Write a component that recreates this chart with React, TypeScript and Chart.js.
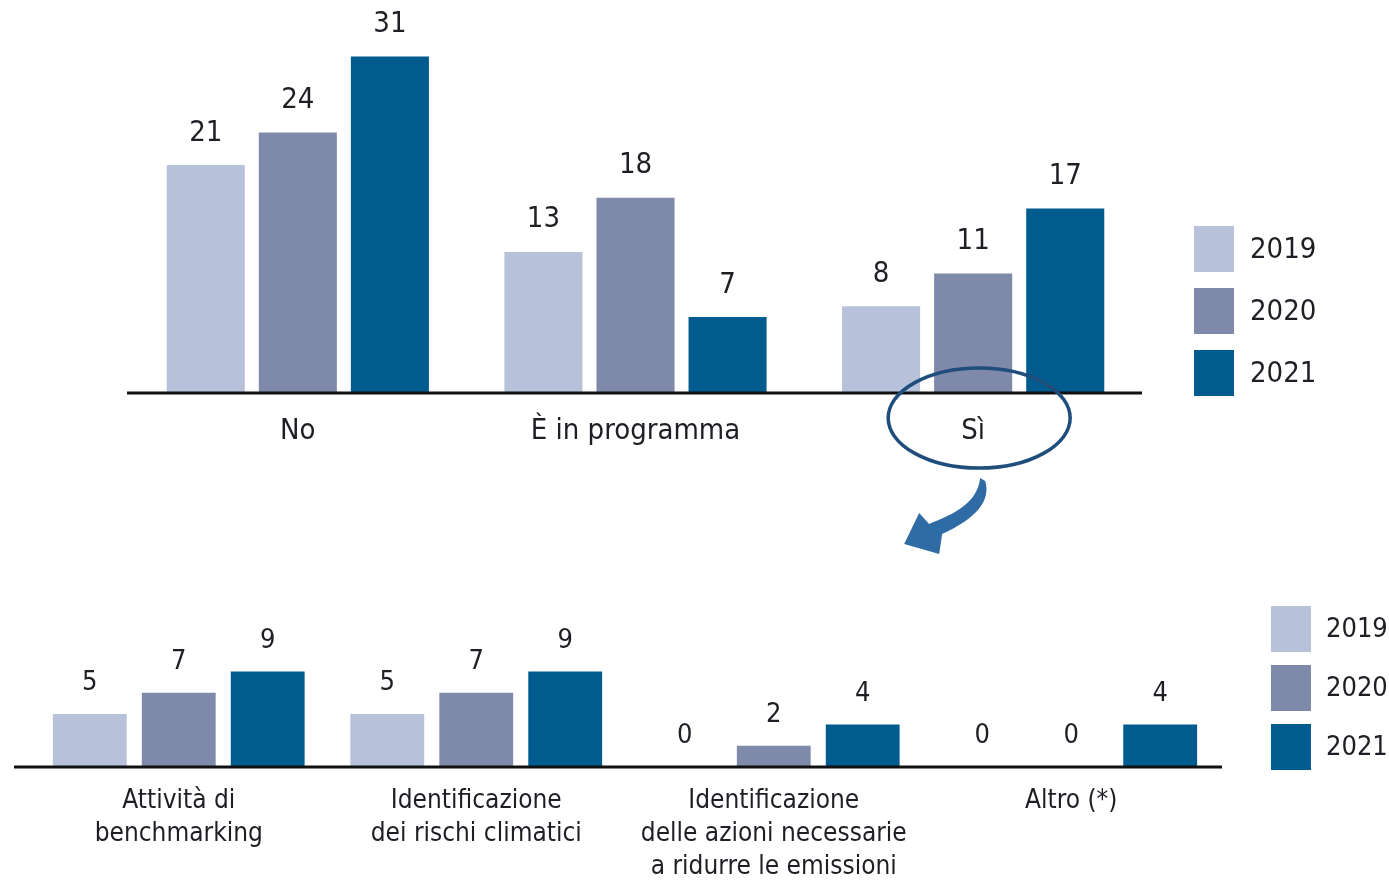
import React, { useEffect, useRef } from 'react';
import { Chart, registerables } from 'chart.js';
Chart.register(...registerables);

const years = ['2019', '2020', '2021'];
const colors = ['#b7c1d9', '#7f89a9', '#005b8e'];

const topCategories = ['No', 'È in programma', 'Sì'];
const top2019 = [21, 13, 8];
const top2020 = [24, 18, 11];
const top2021 = [31, 7, 17];

const bottomCategories = [
  ['Attività di', 'benchmarking'],
  ['Identificazione', 'dei rischi climatici'],
  ['Identificazione', 'delle azioni necessarie', 'a ridurre le emissioni'],
  ['Altro (*)'],
];
const bottom2019 = [5, 5, 0, 0];
const bottom2020 = [7, 7, 2, 0];
const bottom2021 = [9, 9, 4, 4];

const FONT = "'DejaVu Sans Condensed', 'Liberation Sans Narrow', sans-serif";
const TEXT = '#1e1e24';

function valueLabels(size: number, offset: number) {
  return {
    id: 'valueLabels',
    afterDatasetsDraw(chart: any) {
      const ctx = chart.ctx;
      ctx.save();
      ctx.font = `${size}px ${FONT}`;
      ctx.fillStyle = TEXT;
      ctx.textAlign = 'center';
      ctx.textBaseline = 'middle';
      chart.data.datasets.forEach((ds: any, i: number) => {
        const meta = chart.getDatasetMeta(i);
        meta.data.forEach((el: any, j: number) => {
          ctx.fillText(String(ds.data[j]), el.x, el.y - offset);
        });
      });
      ctx.restore();
    },
  };
}

function axisLine(x1: number, x2: number) {
  return {
    id: 'axisLine',
    afterDatasetsDraw(chart: any) {
      const ctx = chart.ctx;
      const y = chart.chartArea.bottom;
      ctx.save();
      ctx.strokeStyle = '#111';
      ctx.lineWidth = 3;
      ctx.beginPath();
      ctx.moveTo(x1, y);
      ctx.lineTo(x2, y);
      ctx.stroke();
      ctx.restore();
    },
  };
}

function customLegend(x: number, y0: number, step: number, w: number, h: number, textX: number, size: number) {
  return {
    id: 'customLegend',
    afterDraw(chart: any) {
      const ctx = chart.ctx;
      ctx.save();
      ctx.font = `${size}px ${FONT}`;
      ctx.textAlign = 'left';
      ctx.textBaseline = 'middle';
      chart.data.datasets.forEach((ds: any, i: number) => {
        const y = y0 + i * step;
        ctx.fillStyle = ds.backgroundColor;
        ctx.fillRect(x, y, w, h);
        ctx.fillStyle = TEXT;
        ctx.fillText(ds.label, textX, y + h / 2 + 1);
      });
      ctx.restore();
    },
  };
}

const highlight = {
  id: 'highlight',
  afterDraw(chart: any) {
    const ctx = chart.ctx;
    const xs = chart.scales.x;
    const cx = xs.getPixelForValue(2) + 6;
    const cy = chart.chartArea.bottom + 25;
    ctx.save();
    ctx.strokeStyle = '#1f4d7c';
    ctx.lineWidth = 3.5;
    ctx.beginPath();
    ctx.ellipse(cx, cy, 91, 50, 0, 0, Math.PI * 2);
    ctx.stroke();
    // curved arrow
    ctx.fillStyle = '#2f6ca6';
    ctx.beginPath();
    ctx.moveTo(cx + 1, cy + 60);
    ctx.lineTo(cx + 6, cy + 63);
    ctx.bezierCurveTo(cx + 12, cy + 82, cx - 2, cy + 100, cx - 37, cy + 116);
    ctx.lineTo(cx - 40, cy + 136);
    ctx.lineTo(cx - 75, cy + 126);
    ctx.lineTo(cx - 60, cy + 95);
    ctx.lineTo(cx - 50, cy + 106);
    ctx.bezierCurveTo(cx - 26, cy + 96, cx - 2, cy + 86, cx + 1, cy + 60);
    ctx.closePath();
    ctx.fill();
    ctx.restore();
  },
};

function makeDatasets(series: number[][], barPct: number, catPct: number) {
  return series.map((d, i) => ({
    label: years[i],
    data: d,
    backgroundColor: colors[i],
    borderWidth: 0,
    barPercentage: barPct,
    categoryPercentage: catPct,
  }));
}

export default function App() {
  const topRef = useRef<HTMLCanvasElement>(null);
  const botRef = useRef<HTMLCanvasElement>(null);

  useEffect(() => {
    document.body.style.margin = '0';
    const top = new Chart(topRef.current!, {
      type: 'bar',
      data: {
        labels: topCategories,
        datasets: makeDatasets([top2019, top2020, top2021], 0.848, 0.818),
      },
      options: {
        responsive: false,
        animation: false,
        layout: { padding: { left: 129, right: 247, top: 24, bottom: 0 } },
        plugins: { legend: { display: false }, tooltip: { enabled: false } },
        scales: {
          y: { display: false, min: 0, max: 34 },
          x: {
            afterFit: (s: any) => { s.height = 167; },
            grid: { display: false, drawTicks: false },
            border: { display: false },
            ticks: {
              color: TEXT,
              font: { family: FONT, size: 29 },
              padding: 21,
              maxRotation: 0,
              autoSkip: false,
            },
          },
        },
      },
      plugins: [axisLine(127, 1142), valueLabels(29, 32), customLegend(1194, 226, 62, 40, 46, 1250, 29), highlight],
    });

    const bot = new Chart(botRef.current!, {
      type: 'bar',
      data: {
        labels: bottomCategories as any,
        datasets: makeDatasets([bottom2019, bottom2020, bottom2021], 0.83, 0.897),
      },
      options: {
        responsive: false,
        animation: false,
        layout: { padding: { left: 30, right: 169, top: 101, bottom: 0 } },
        plugins: { legend: { display: false }, tooltip: { enabled: false } },
        scales: {
          y: { display: false, min: 0, max: 10 },
          x: {
            afterFit: (s: any) => { s.height = 113; },
            grid: { display: false, drawTicks: false },
            border: { display: false },
            ticks: {
              color: TEXT,
              font: { family: FONT, size: 26, lineHeight: 1.27 },
              padding: 18,
              maxRotation: 0,
              autoSkip: false,
            },
          },
        },
      },
      plugins: [axisLine(14, 1222), valueLabels(27, 31), customLegend(1271, 46, 59, 40, 46, 1326, 27)],
    });

    return () => {
      top.destroy();
      bot.destroy();
    };
  }, []);

  return (
    <div style={{ position: 'relative', width: 1389, height: 880, background: '#fff' }}>
      <canvas ref={topRef} width={1389} height={560} style={{ position: 'absolute', left: 0, top: 0 }} />
      <canvas ref={botRef} width={1389} height={320} style={{ position: 'absolute', left: 0, top: 560 }} />
    </div>
  );
}
